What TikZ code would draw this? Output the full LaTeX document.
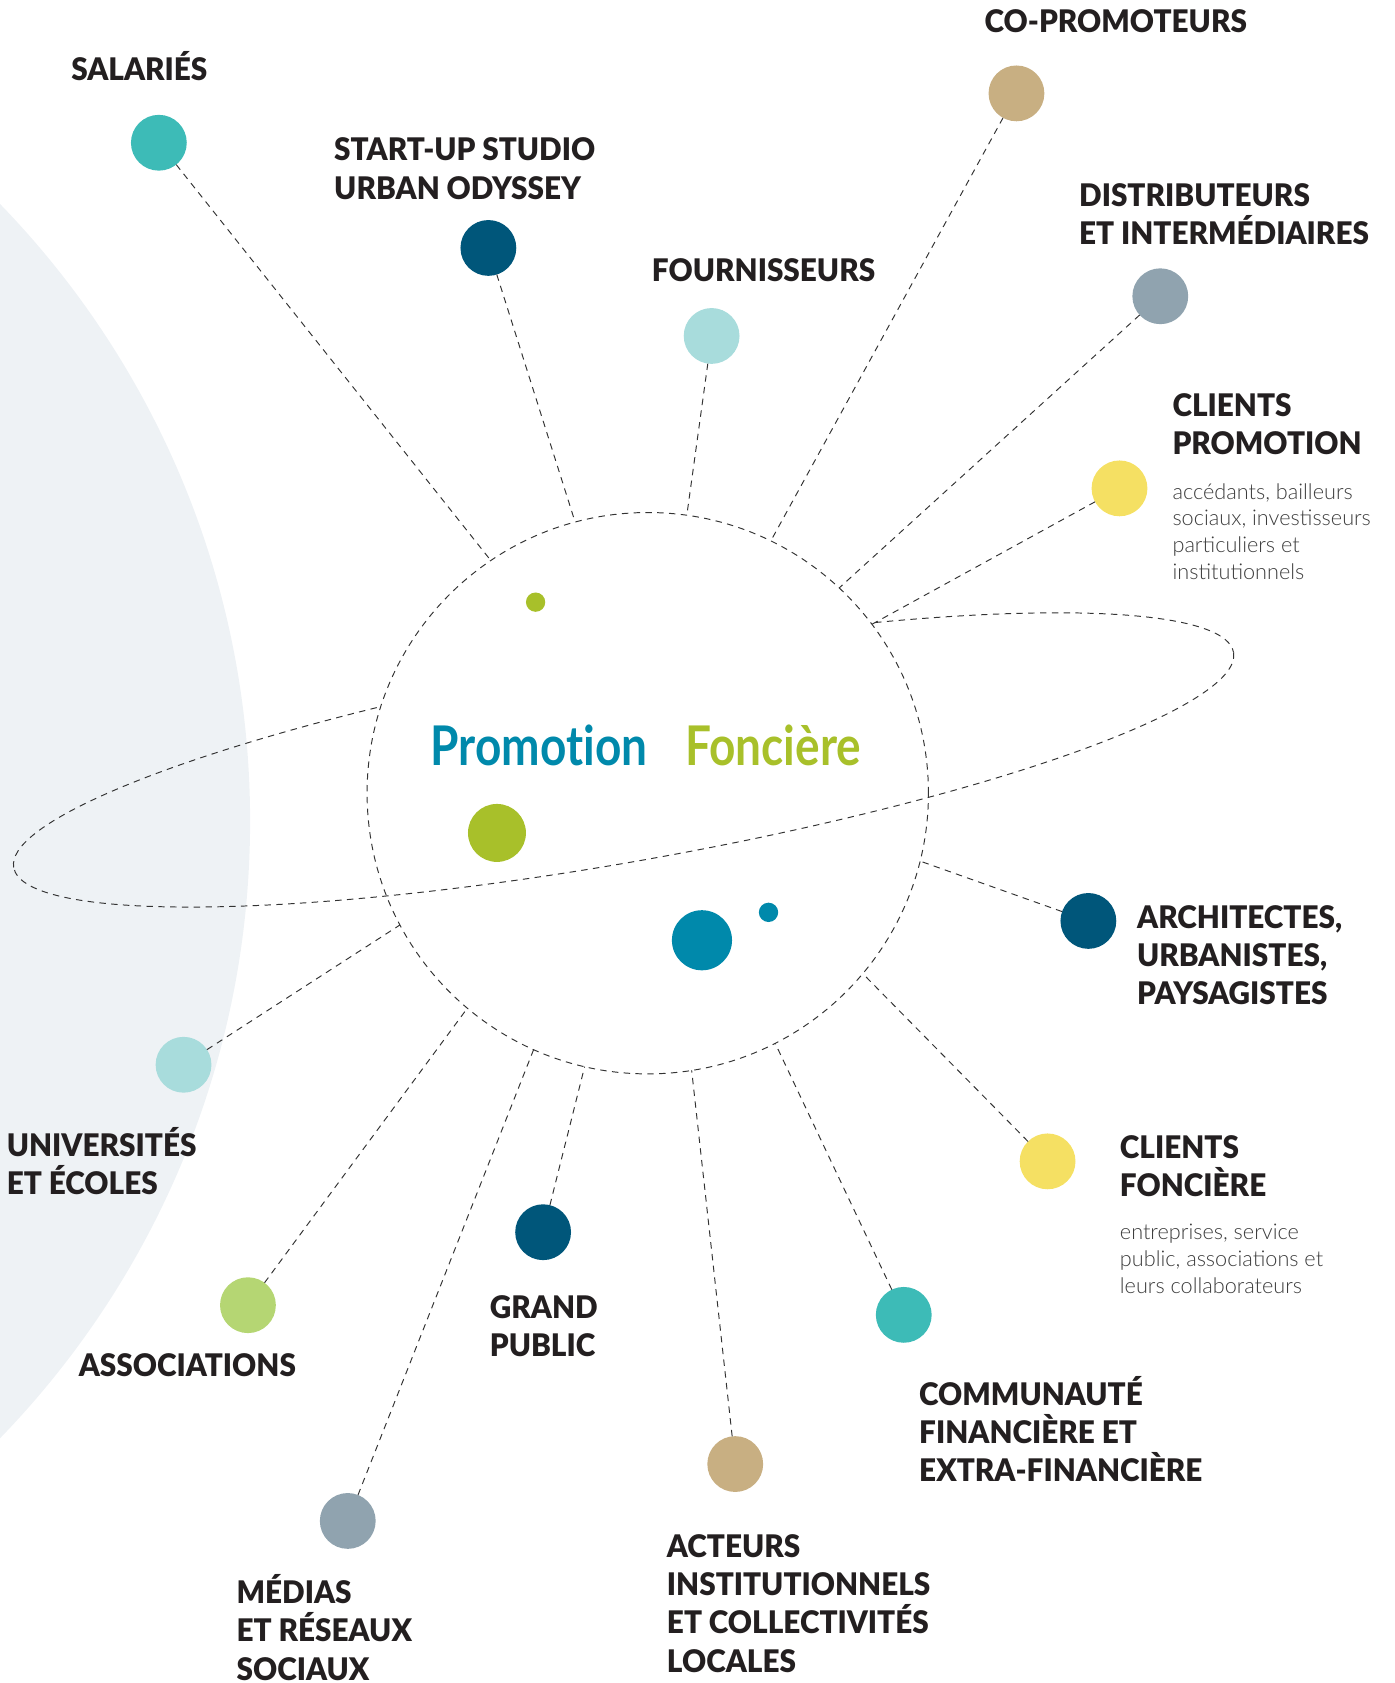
\documentclass[tikz,border=0pt]{standalone}
\usepackage{fontspec}
\usepackage{graphicx}
\setmainfont{Lato}[Ligatures=NoCommon]
\newfontfamily\lblfont{Lato Black}[FakeStretch=0.955]
\newfontfamily\descfont{Lato Light}
\definecolor{cTeal}{HTML}{3DBBB7}
\definecolor{cNavy}{HTML}{00567A}
\definecolor{cCyan}{HTML}{A8DCDC}
\definecolor{cTan}{HTML}{C8AF82}
\definecolor{cSlate}{HTML}{90A3AF}
\definecolor{cYellow}{HTML}{F5E063}
\definecolor{cLGreen}{HTML}{B5D673}
\definecolor{cGreen}{HTML}{A8C02A}
\definecolor{cBlue}{HTML}{0089AB}
\definecolor{cBg}{HTML}{EEF2F5}
\definecolor{cText}{HTML}{231F20}
\definecolor{cGray}{HTML}{3C3C3C}
\begin{document}
\begin{tikzpicture}[x=0.5pt,y=-0.5pt,
  dot/.style={circle,fill=#1,minimum size=26pt,inner sep=0pt,outer sep=0pt},
  link/.style={draw=black!80,dash pattern=on 3pt off 2.5pt,line width=0.45pt},
  lbl/.style={anchor=base west,align=left,inner sep=0pt,text=cText,
    font=\lblfont\fontsize{14.5}{17.8}\selectfont},
  desc/.style={anchor=base west,align=left,inner sep=0pt,text=cGray,
    font=\descfont\fontsize{10.1}{12.5}\selectfont}]
\useasboundingbox (0,0) rectangle (1299,1568);
% background
\fill[cBg] (-593,765) circle[radius=826];
% planet
\node[draw=black!80,dash pattern=on 3pt off 2.5pt,line width=0.45pt,circle,
  minimum size=261.5pt,inner sep=0pt,outer sep=0pt] (planet) at (603.5,739) {};
% orbit
\begin{scope}[shift={(581,708)},rotate=10]
  \draw[link] (0:577 and 95) arc[start angle=0,end angle=180,x radius=577,y radius=95];
  \draw[link] (180:577 and 95) arc[start angle=180,end angle=248,x radius=577,y radius=95];
  \draw[link] (296:577 and 95) arc[start angle=296,end angle=360,x radius=577,y radius=95];
\end{scope}
% inner dots and text
\node[circle,fill=cGreen,minimum size=9pt,inner sep=0pt] (g1) at (499,561) {};
\node[circle,fill=cGreen,minimum size=27pt,inner sep=0pt] (g2) at (463,776) {};
\node[circle,fill=cBlue,minimum size=28pt,inner sep=0pt] (b1) at (654,876) {};
\node[circle,fill=cBlue,minimum size=9pt,inner sep=0pt] (b2) at (716,850) {};
\node[anchor=base west,inner sep=0pt,text=cBlue,font=\bfseries\fontsize{25.5}{30}\selectfont]
  (tProm) at (401,713) {\scalebox{0.84}[1]{Promotion}};
\node[anchor=base west,inner sep=0pt,text=cGreen,font=\bfseries\fontsize{25.5}{30}\selectfont]
  (tFonc) at (638,713) {\scalebox{0.84}[1]{Foncière}};
% stakeholder dots
\node[dot=cTeal]   (sal)  at (148,133) {};
\node[dot=cNavy]   (sup)  at (455,231) {};
\node[dot=cCyan]   (four) at (663,313) {};
\node[dot=cTan]    (cop)  at (947,87) {};
\node[dot=cSlate]  (dist) at (1081,276) {};
\node[dot=cYellow] (clp)  at (1043,455) {};
\node[dot=cNavy]   (arch) at (1014,858) {};
\node[dot=cYellow] (clf)  at (976,1082) {};
\node[dot=cTeal]   (comm) at (842,1225) {};
\node[dot=cTan]    (act)  at (685,1364) {};
\node[dot=cNavy]   (gp)   at (506,1148) {};
\node[dot=cSlate]  (med)  at (324,1417) {};
\node[dot=cLGreen] (asso) at (231,1216) {};
\node[dot=cCyan]   (univ) at (171,992) {};
% connectors
\draw[link] (sal)  -- (planet.124);
\draw[link] (sup)  -- (planet.105);
\draw[link] (four) -- (planet.82);
\draw[link] (cop)  -- (planet.64);
\draw[link] (dist) -- (planet.47);
\draw[link] (clp)  -- (planet.37);
\draw[link] (arch) -- (planet.-14);
\draw[link] (clf)  -- (planet.-40);
\draw[link] (comm) -- (planet.-63);
\draw[link] (act)  -- (planet.-81);
\draw[link] (gp)   -- (planet.-103);
\draw[link] (med)  -- (planet.-114);
\draw[link] (asso) -- (planet.-130);
\draw[link] (univ) -- (planet.-152);
% labels (anchor = baseline of last line)
\node[lbl] (lsal)  at (66,75)     {SALARIÉS};
\node[lbl] (lsup)  at (311,185.6) {START-UP STUDIO\\URBAN ODYSSEY};
\node[lbl] (lfour) at (607,262)   {FOURNISSEURS};
\node[lbl] (lcop)  at (917,30)    {CO-PROMOTEURS};
\node[lbl] (ldist) at (1005,227.6) {DISTRIBUTEURS\\ET INTERMÉDIAIRES};
\node[lbl] (lclp)  at (1092,423.6) {CLIENTS\\PROMOTION};
\node[desc] (dclp) at (1092,540)  {accédants, bailleurs\\sociaux, investisseurs\\particuliers et\\institutionnels};
\node[lbl] (larch) at (1059,936.2) {ARCHITECTES,\\URBANISTES,\\PAYSAGISTES};
\node[lbl] (lclf)  at (1043,1114.6) {CLIENTS\\FONCIÈRE};
\node[desc] (dclf) at (1043,1205) {entreprises, service\\public, associations et\\leurs collaborateurs};
\node[lbl] (lcomm) at (856,1380.2) {COMMUNAUTÉ\\FINANCIÈRE ET\\EXTRA-FINANCIÈRE};
\node[lbl] (lact)  at (621,1557.8) {ACTEURS\\INSTITUTIONNELS\\ET COLLECTIVITÉS\\LOCALES};
\node[lbl] (lgp)   at (456,1263.6) {GRAND\\PUBLIC};
\node[lbl] (lmed)  at (220,1565.2) {MÉDIAS\\ET RÉSEAUX\\SOCIAUX};
\node[lbl] (lasso) at (73,1282)   {ASSOCIATIONS};
\node[lbl] (luniv) at (6,1112.6)  {UNIVERSITÉS\\ET ÉCOLES};
\end{tikzpicture}
\end{document}
